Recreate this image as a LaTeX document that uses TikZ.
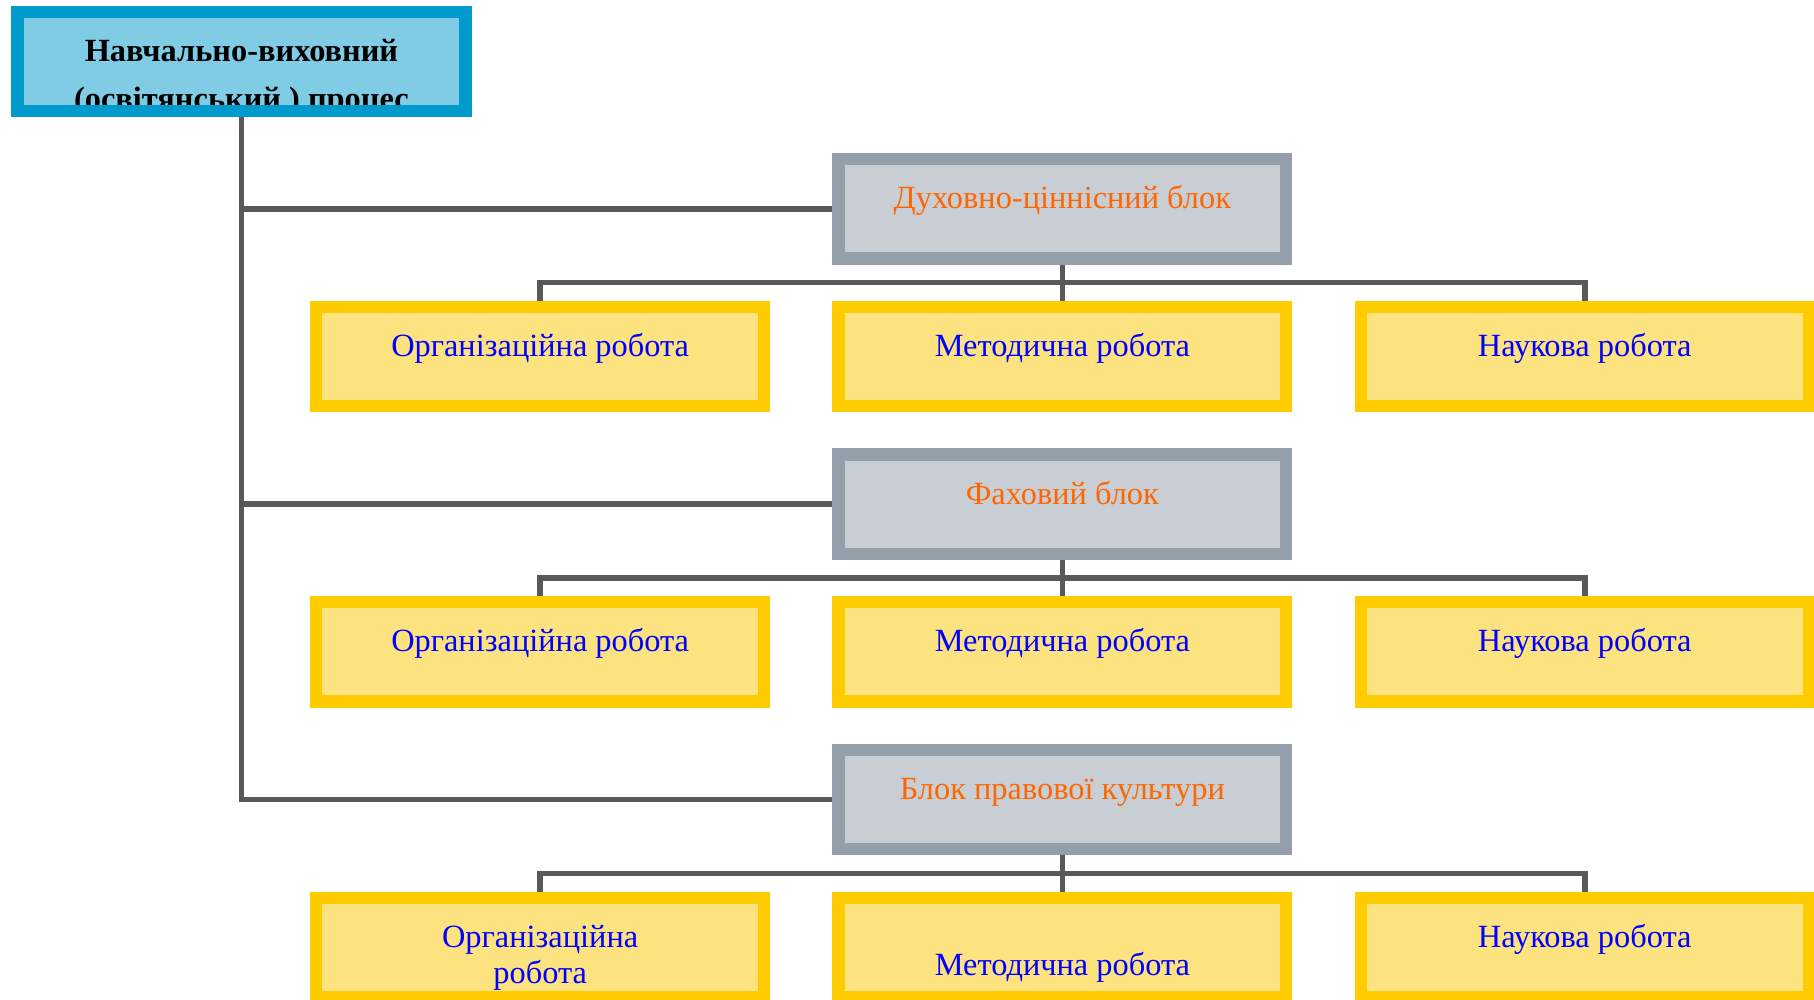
\documentclass[tikz,border=0pt]{standalone}
\usepackage{fontspec}
\setmainfont{Liberation Serif}
\usetikzlibrary{backgrounds}
\definecolor{bluebord}{HTML}{009ACD}
\definecolor{bluefill}{HTML}{80CCE5}
\definecolor{graybord}{HTML}{959FA9}
\definecolor{grayfill}{HTML}{C9CED5}
\definecolor{yelbord}{HTML}{FFCC00}
\definecolor{yelfill}{HTML}{FDE37F}
\definecolor{linegray}{HTML}{595959}
\definecolor{orangetxt}{HTML}{FF6600}
\definecolor{bluetxt}{HTML}{0000FF}
\tikzset{
  boxbase/.style={rectangle, inner sep=0pt, minimum width=193.2pt, minimum height=42.55pt,
    text height=0pt, text depth=0pt, font=\fontsize{14}{15.5}\selectfont},
  titlebox/.style={boxbase, fill=bluefill, font=\fontsize{14}{21}\selectfont\bfseries},
  blockbox/.style={boxbase, fill=grayfill, text=orangetxt},
  workbox/.style={boxbase, fill=yelfill, text=bluetxt},
  bbord/.style={draw=bluebord, line width=5.3pt},
  gbord/.style={draw=graybord, line width=5.3pt},
  ybord/.style={draw=yelbord, line width=5.3pt},
  conn/.style={draw=linegray, line width=2.45pt}
}
\newcommand{\twol}[2]{\begin{tabular}[t]{@{}c@{}}#1\\#2\end{tabular}}
\begin{document}
\begin{tikzpicture}[x=0.5pt,y=-0.5pt]
\useasboundingbox (0,0) rectangle (1568,863.6);
% title
\begin{scope}
\clip (9.9,5.2) rectangle (407.5,100.8);
\node[titlebox] (top) at (208.7,53) {\twol{Навчально-виховний}{(освітянський )\ процес}};
\end{scope}
\draw[bbord] (top.north west) rectangle (top.south east);
% blocks
\node[blockbox] (g1) at (918.3,180.4) {Духовно-ціннісний блок};
\node[blockbox] (g2) at (918.3,435.8) {Фаховий блок};
\node[blockbox] (g3) at (918.3,691.1) {Блок правової культури};
\foreach \n in {g1,g2,g3} \draw[gbord] (\n.north west) rectangle (\n.south east);
% work boxes
\node[workbox] (a1) at (466.9,308.1) {Організаційна робота};
\node[workbox] (b1) at (918.3,308.1) {Методична робота};
\node[workbox] (c1) at (1369.8,308.1) {Наукова робота};
\node[workbox] (a2) at (466.9,563.5) {Організаційна робота};
\node[workbox] (b2) at (918.3,563.5) {Методична робота};
\node[workbox] (c2) at (1369.8,563.5) {Наукова робота};
\node[workbox] (a3) at (466.9,818.9) {\twol{Організаційна}{робота}};
\node[workbox] (b3) at (918.3,818.9) {\raisebox{-12.25pt}{Методична робота}};
\node[workbox] (c3) at (1369.8,818.9) {Наукова робота};
\foreach \n in {a1,b1,c1,a2,b2,c2,a3,b3,c3} \draw[ybord] (\n.north west) rectangle (\n.south east);
% connectors
\coordinate (bus1) at (918.3,244.3);
\coordinate (bus2) at (918.3,499.7);
\coordinate (bus3) at (918.3,755.1);
\begin{pgfonlayer}{background}
\draw[conn] (top.south) |- (g1.west);
\draw[conn] (top.south) |- (g2.west);
\draw[conn] (top.south) |- (g3.west);
\draw[conn] (g1.south) -- (b1.north);
\draw[conn] (a1.north) |- (bus1) -| (c1.north);
\draw[conn] (g2.south) -- (b2.north);
\draw[conn] (a2.north) |- (bus2) -| (c2.north);
\draw[conn] (g3.south) -- (b3.north);
\draw[conn] (a3.north) |- (bus3) -| (c3.north);
\end{pgfonlayer}
\end{tikzpicture}
\end{document}
